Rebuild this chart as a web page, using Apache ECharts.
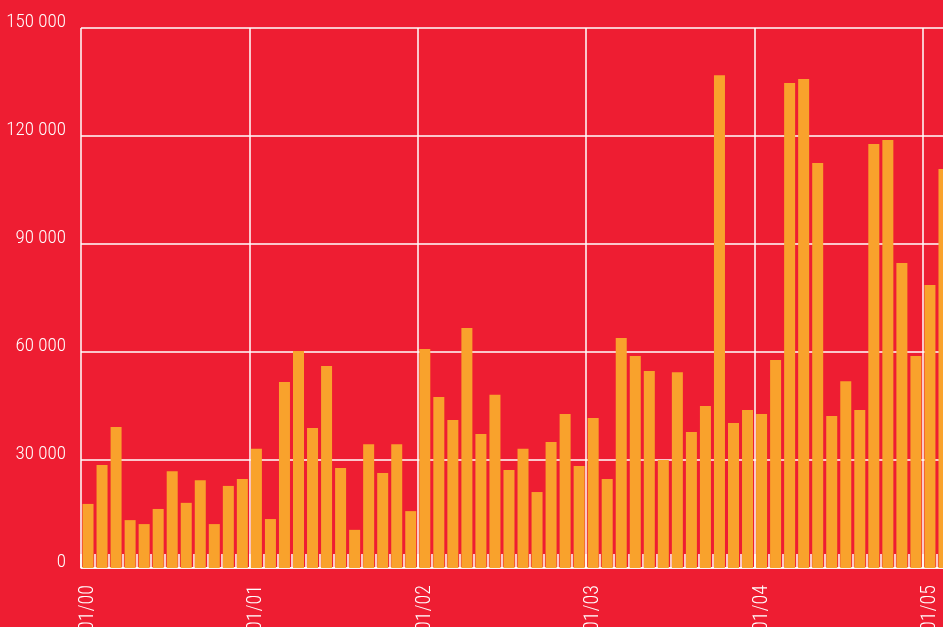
<!DOCTYPE html>
<html>
<head>
<meta charset="utf-8">
<script src="https://cdn.jsdelivr.net/npm/echarts@6/dist/echarts.min.js"></script>
<style>
  html, body { margin: 0; padding: 0; background: #EE1D32; }
  #main { width: 943px; height: 627px; }
</style>
</head>
<body>
<div id="main"></div>
<script>
var myChart = echarts.init(document.getElementById('main'));

// monthly values, Jan 2000 .. Feb 2005 (visible part)
var values = [
  17800, 28600, 39200, 13300, 12200, 16400, 26900, 18100, 24400, 12200, 22800, 24700,
  33100, 13600, 51700, 60300, 38900, 56100, 27800, 10600, 34400, 26400, 34400, 15800,
  60800, 47500, 41100, 66700, 37200, 48100, 27200, 33100, 21100, 35000, 42800, 28300,
  41700, 24700, 63900, 58900, 54700, 30000, 54400, 37800, 45000, 136900, 40300, 43900,
  42800, 57800, 134700, 135800, 112500, 42200, 51900, 43900, 117800, 118900, 84700, 58900,
  78600, 110800
];

var yTicks = [0, 30000, 60000, 90000, 120000, 150000];

var months = [];
for (var i = 0; i < values.length; i++) {
  var m = (i % 12) + 1;
  var y = Math.floor(i / 12);
  months.push((m < 10 ? '0' + m : '' + m) + '/' + (y < 10 ? '0' + y : '' + y));
}

var font = '"Roboto Condensed", Roboto, "DejaVu Sans Condensed", sans-serif';

var option = {
  backgroundColor: '#EE1D32',
  animation: false,
  grid: { left: 81, top: 28, bottom: 59, right: -8, containLabel: false, outerBoundsMode: 'none' },
  xAxis: {
    type: 'category',
    data: months,
    axisLine: { lineStyle: { color: '#ffffff', width: 1.5 } },
    axisTick: { show: true, inside: true, length: 14, interval: 0, lineStyle: { color: '#ffffff', width: 1.5 } },
    axisLabel: {
      interval: 11,
      rotate: 90,
      margin: 17,
      color: '#ffffff',
      fontFamily: font,
      fontWeight: 300,
      fontSize: 20
    },
    splitLine: { show: true, interval: 11, lineStyle: { color: '#ffffff', width: 1.5 } }
  },
  yAxis: {
    type: 'value',
    min: yTicks[0],
    max: yTicks[yTicks.length - 1],
    interval: 30000,
    axisLine: { show: false },
    axisTick: { show: false },
    axisLabel: {
      margin: 15,
      color: '#ffffff',
      fontFamily: font,
      fontWeight: 300,
      fontSize: 19,
      lineHeight: 12,
      verticalAlign: 'bottom',
      formatter: function (v) {
        return String(v).replace(/\B(?=(\d{3})+(?!\d))/g, ' ');
      }
    },
    splitLine: { lineStyle: { color: '#ffffff', width: 1.5 } }
  },
  series: [{
    type: 'bar',
    data: values,
    barWidth: 11,
    itemStyle: { color: '#F9A22C' }
  }]
};
myChart.setOption(option);
</script>
</body>
</html>
